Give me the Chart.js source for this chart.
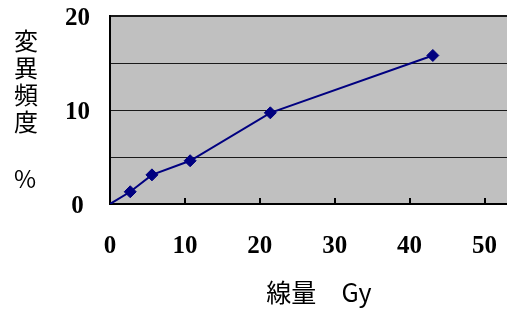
<!DOCTYPE html>
<html>
<head>
<meta charset="utf-8">
<script src="https://cdn.jsdelivr.net/npm/chart.js@4"></script>
<style>
  body { margin: 0; background: #fff; }
</style>
</head>
<body>
<canvas id="doseChart" width="507" height="309"></canvas>
<script>
// values
var doseGy = [0, 2.7, 5.6, 10.7, 21.4, 43.1];
var mutationRate = [0, 1.3, 3.1, 4.6, 9.7, 15.8];
var xTicks = [0, 10, 20, 30, 40, 50];
var yTicks = [0, 10, 20];
var yTitle = ["変", "異", "頻", "度"];
var yUnit = "%";
var xTitle = "線量　Gy";

var tickFont = { family: "Liberation Serif", size: 25, weight: "bold" };
var cjkFont = '24px "Noto Sans CJK JP"';

var points = doseGy.map(function (d, i) { return { x: d, y: mutationRate[i] }; });

var plotBg = {
  id: "plotBg",
  beforeDraw: function (chart) {
    var a = chart.chartArea, ctx = chart.ctx;
    ctx.save();
    ctx.fillStyle = "#c0c0c0";
    ctx.fillRect(a.left, a.top, a.right - a.left, a.bottom - a.top);
    ctx.restore();
  },
  afterDraw: function (chart) {
    var ctx = chart.ctx, a = chart.chartArea, xs = chart.scales.x;
    ctx.save();
    // inward tick marks on the x axis
    ctx.strokeStyle = "#000";
    ctx.lineWidth = 2;
    xTicks.forEach(function (v) {
      if (v === 0) return;
      var px = Math.round(xs.getPixelForValue(v));
      ctx.beginPath();
      ctx.moveTo(px, a.bottom);
      ctx.lineTo(px, a.bottom - 6);
      ctx.stroke();
    });
    // axis titles
    ctx.fillStyle = "#000";
    ctx.font = cjkFont;
    ctx.textAlign = "center";
    ctx.textBaseline = "middle";
    yTitle.forEach(function (ch, i) {
      ctx.fillText(ch, 26, 41 + i * 27);
    });
    ctx.fillText(yUnit, 25, 179);
    ctx.font = '25px "Noto Sans CJK JP"';
    ctx.fillText(xTitle, 319, 292);
    ctx.restore();
  }
};

new Chart(document.getElementById("doseChart"), {
  type: "scatter",
  data: {
    datasets: [{
      data: points,
      showLine: true,
      borderColor: "#000080",
      borderWidth: 2,
      backgroundColor: "#000080",
      pointStyle: "rectRot",
      pointRadius: [0, 6, 6, 6, 6, 6],
      pointBorderWidth: 1,
      pointBorderColor: "#000080"
    }]
  },
  options: {
    responsive: false,
    animation: false,
    layout: { autoPadding: false, padding: { top: 16, right: 0, left: 0, bottom: 0 } },
    plugins: { legend: { display: false }, tooltip: { enabled: false } },
    scales: {
      x: {
        type: "linear",
        min: 0,
        max: 53,
        afterBuildTicks: function (s) {
          s.ticks = xTicks.map(function (v) { return { value: v }; });
        },
        afterFit: function (s) {
          s.height = 105;
          s.paddingLeft = 0;
          s.paddingRight = 0;
        },
        grid: { display: false },
        border: { display: true, color: "#000", width: 2 },
        ticks: { font: tickFont, color: "#000", padding: 20, maxRotation: 0 }
      },
      y: {
        min: 0,
        max: 20,
        afterBuildTicks: function (s) {
          var t = [];
          for (var v = 0; v <= 20; v += 5) t.push({ value: v });
          s.ticks = t;
        },
        afterFit: function (s) {
          s.width = 110;
          s.paddingTop = 0;
          s.paddingBottom = 0;
        },
        grid: {
          drawTicks: false,
          color: function (c) { return c.tick && c.tick.value === 0 ? "rgba(0,0,0,0)" : "#1a1a1a"; },
          lineWidth: function (c) { return c.tick && c.tick.value === 20 ? 2 : 1; }
        },
        border: { display: true, color: "#000", width: 2 },
        ticks: {
          font: tickFont,
          color: "#000",
          padding: 20,
          crossAlign: "center",
          labelOffset: 3,
          callback: function (v) { return yTicks.indexOf(v) >= 0 ? v : ""; }
        }
      }
    }
  },
  plugins: [plotBg]
});
</script>
</body>
</html>
